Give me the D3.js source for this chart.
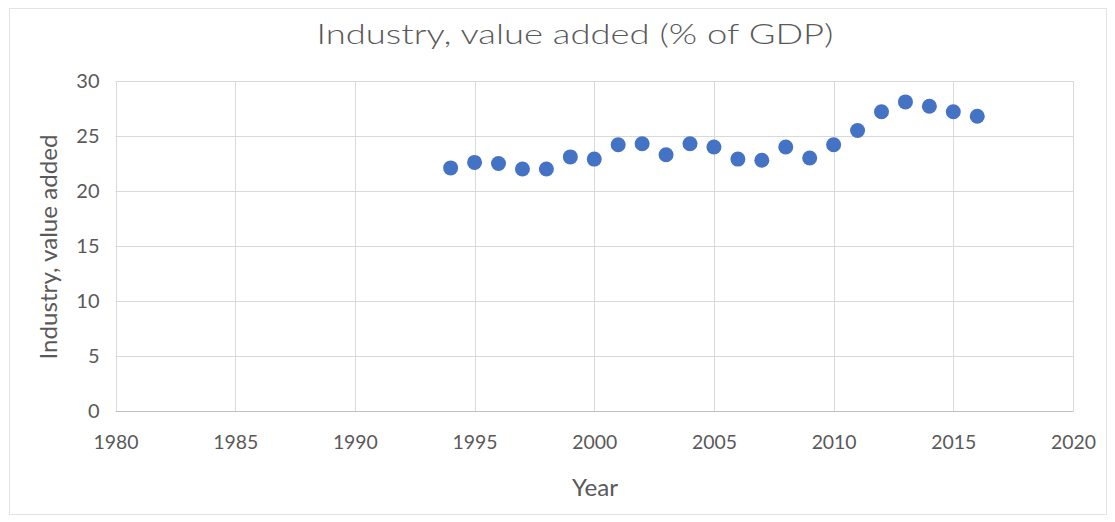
<!DOCTYPE html>
<html><head><meta charset="utf-8">
<script src="https://cdn.jsdelivr.net/npm/d3@7"></script>
<style>body{margin:0;background:#fff}svg{display:block}text{font-family:Lato,"Open Sans",sans-serif;fill:#595959}</style>
</head><body><svg id="c" width="1115" height="522"></svg>
<script>
const years = [1994,1995,1996,1997,1998,1999,2000,2001,2002,2003,2004,2005,2006,2007,2008,2009,2010,2011,2012,2013,2014,2015,2016];
const values = [22.1,22.6,22.5,22.0,22.0,23.1,22.9,24.2,24.3,23.3,24.3,24.0,22.9,22.8,24.0,23.0,24.2,25.5,27.2,28.1,27.7,27.2,26.8];
const xTicks = [1980,1985,1990,1995,2000,2005,2010,2015,2020];
const yTicks = [0,5,10,15,20,25,30];
const title = "Industry, value added (% of GDP)";
const xTitle = "Year";
const yTitle = "Industry, value added";

const svg = d3.select("#c");
svg.append("rect").attr("x",9.5).attr("y",8.5).attr("width",1097).attr("height",506).attr("fill","#fff").attr("stroke","#e3e3e3");
const x = d3.scaleLinear().domain([1980,2020]).range([115.5,1073]);
const y = d3.scaleLinear().domain([0,30]).range([411,81]);

const grid = svg.append("g");
grid.selectAll(".gy").data(yTicks).join("line").attr("x1",x(1980)).attr("x2",x(2020)).attr("y1",d=>Math.round(y(d))+0.5).attr("y2",d=>Math.round(y(d))+0.5).attr("stroke","#d9d9d9");
grid.selectAll(".gx").data(xTicks).join("line").attr("y1",y(0)).attr("y2",y(30)).attr("x1",d=>Math.round(x(d))+0.5).attr("x2",d=>Math.round(x(d))+0.5).attr("stroke","#d9d9d9");

const yAxis = d3.axisLeft(y).tickValues(yTicks).tickSize(0).tickPadding(16);
const ga = svg.append("g").attr("transform",`translate(${x(1980)},0)`).call(yAxis);
ga.select(".domain").remove();
ga.selectAll("text").style("font-size","20px").attr("fill","#595959");
const xAxis = d3.axisBottom(x).tickValues(xTicks).tickFormat(d3.format("d")).tickSize(0).tickPadding(24);
const gb = svg.append("g").attr("transform",`translate(0,${y(0)})`).call(xAxis);
gb.select(".domain").attr("stroke","#bfbfbf");
gb.selectAll("text").style("font-size","20px").attr("textLength",45).attr("lengthAdjust","spacingAndGlyphs").attr("fill","#595959");

svg.append("g").selectAll("circle").data(years).join("circle")
  .attr("cx",(d)=>x(d)).attr("cy",(d,i)=>y(values[i])).attr("r",7.5).attr("fill","#4472C4");

svg.append("text").attr("x",575).attr("y",44).attr("text-anchor","middle").style("font-size","28px").style("font-weight","300").attr("textLength",517).attr("lengthAdjust","spacingAndGlyphs").text(title);
svg.append("text").attr("x",595).attr("y",496).attr("text-anchor","middle").style("font-size","24px").attr("textLength",46).attr("lengthAdjust","spacingAndGlyphs").text(xTitle);
svg.append("text").attr("transform","translate(57,247) rotate(-90)").attr("text-anchor","middle").style("font-size","24px").attr("textLength",225).attr("lengthAdjust","spacingAndGlyphs").text(yTitle);
</script></body></html>
